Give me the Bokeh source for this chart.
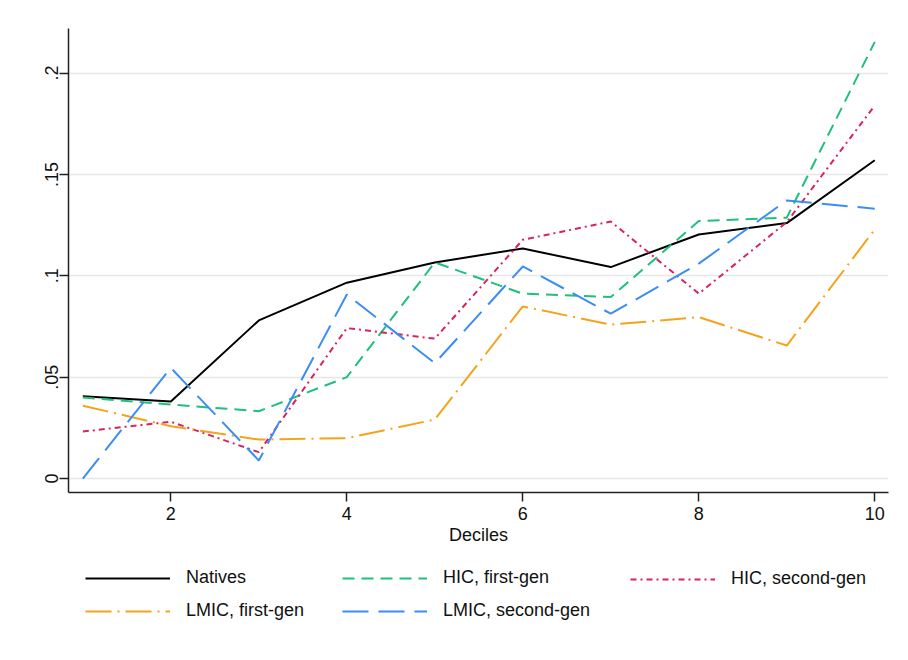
from bokeh.plotting import figure
from bokeh.models import Legend, LegendItem, FixedTicker, Range1d
from bokeh.layouts import column
from bokeh.embed import file_html
from bokeh.resources import INLINE

deciles = [1, 2, 3, 4, 5, 6, 7, 8, 9, 10]
natives = [0.0406, 0.038, 0.078, 0.0966, 0.1066, 0.1135, 0.1043, 0.1204, 0.126, 0.157]
hic_first = [0.040, 0.0365, 0.0332, 0.050, 0.1066, 0.0912, 0.0895, 0.127, 0.1287, 0.2154]
hic_second = [0.0232, 0.028, 0.013, 0.0742, 0.069, 0.1178, 0.1268, 0.0912, 0.1265, 0.184]
lmic_first = [0.0359, 0.0258, 0.0192, 0.0199, 0.0291, 0.0849, 0.0759, 0.0796, 0.0656, 0.1229]
lmic_second = [0.0, 0.0546, 0.0089, 0.0908, 0.0569, 0.1046, 0.0813, 0.106, 0.1372, 0.1331]

y_ticks = [0, 0.05, 0.1, 0.15, 0.2]
y_tick_labels = ["0", ".05", ".1", ".15", ".2"]
x_ticks = [2, 4, 6, 8, 10]

FONT = "Liberation Sans"

STYLES = {
    "Natives": dict(line_color="#000000", line_width=2),
    "HIC, first-gen": dict(line_color="#1fbf7c", line_width=2, line_dash="12 7"),
    "HIC, second-gen": dict(line_color="#d8235c", line_width=2, line_dash="6 4 2 4"),
    "LMIC, first-gen": dict(line_color="#f5a31a", line_width=2, line_dash="26 6 2 6"),
    "LMIC, second-gen": dict(line_color="#3a8ef2", line_width=2, line_dash="26 10"),
}
SERIES = {
    "Natives": natives,
    "HIC, first-gen": hic_first,
    "HIC, second-gen": hic_second,
    "LMIC, first-gen": lmic_first,
    "LMIC, second-gen": lmic_second,
}

p = figure(width=900, height=554, output_backend="svg", toolbar_location=None,
           x_range=Range1d(0.837, 10.156), y_range=Range1d(-0.0069, 0.222),
           min_border_left=68, min_border_right=12, min_border_top=28, min_border_bottom=62)
p.frame_width = 820
p.frame_height = 464
p.outline_line_color = None
p.background_fill_color = "white"
p.border_fill_color = "white"

for name, ys in SERIES.items():
    p.line(deciles, ys, **STYLES[name])

p.xgrid.grid_line_color = None
p.ygrid.ticker = FixedTicker(ticks=y_ticks)
p.ygrid.grid_line_color = "#e6e6e6"
p.ygrid.grid_line_width = 1.5

p.xaxis.ticker = FixedTicker(ticks=x_ticks)
p.yaxis.ticker = FixedTicker(ticks=y_ticks)
p.yaxis.major_label_overrides = {t: l for t, l in zip(y_ticks, y_tick_labels)}
p.yaxis.major_label_orientation = "vertical"

for ax in (p.xaxis, p.yaxis):
    ax.axis_line_color = "#222222"
    ax.axis_line_width = 1.5
    ax.major_tick_line_color = "#222222"
    ax.major_tick_line_width = 1.5
    ax.major_tick_out = 9
    ax.major_tick_in = 0
    ax.minor_tick_out = 0
    ax.minor_tick_in = 0
    ax.major_label_text_font = FONT
    ax.major_label_text_font_size = "18px"
    ax.major_label_text_color = "#111111"
    ax.axis_label_text_font = FONT
    ax.axis_label_text_font_size = "18px"
    ax.axis_label_text_font_style = "normal"
    ax.axis_label_text_color = "#111111"

p.xaxis.major_label_standoff = 5
p.yaxis.major_label_standoff = 1
p.xaxis.axis_label = "Deciles"
p.xaxis.axis_label_standoff = 2

# legend strip below the chart (lines drawn off-view, only used as legend keys)
lg = figure(width=900, height=98, output_backend="svg", toolbar_location=None,
            x_range=Range1d(100, 101), y_range=Range1d(100, 101),
            min_border_left=0, min_border_right=0, min_border_top=0, min_border_bottom=0)
lg.frame_width = 900
lg.frame_height = 98
lg.axis.visible = False
lg.grid.grid_line_color = None
lg.outline_line_color = None
lg.background_fill_color = "white"
lg.border_fill_color = "white"

keys = {name: lg.line(deciles, ys, **STYLES[name]) for name, ys in SERIES.items()}


def make_legend(names, loc):
    L = Legend(items=[LegendItem(label=n, renderers=[keys[n]]) for n in names],
               orientation="vertical", location=loc)
    L.label_text_font = FONT
    L.label_text_font_size = "18px"
    L.label_text_color = "#111111"
    L.glyph_width = 85
    L.glyph_height = 20
    L.label_height = 20
    L.label_standoff = 16
    L.spacing = 12
    L.padding = 0
    L.margin = 0
    L.border_line_alpha = 0
    L.background_fill_alpha = 0
    return L


lg.add_layout(make_legend(["Natives", "LMIC, first-gen"], (85, 31)), "center")
lg.add_layout(make_legend(["HIC, first-gen", "LMIC, second-gen"], (342, 31)), "center")
lg.add_layout(make_legend(["HIC, second-gen"], (630, 63)), "center")

layout = column(p, lg, spacing=0)
open("out.html", "w").write(file_html(layout, INLINE))
